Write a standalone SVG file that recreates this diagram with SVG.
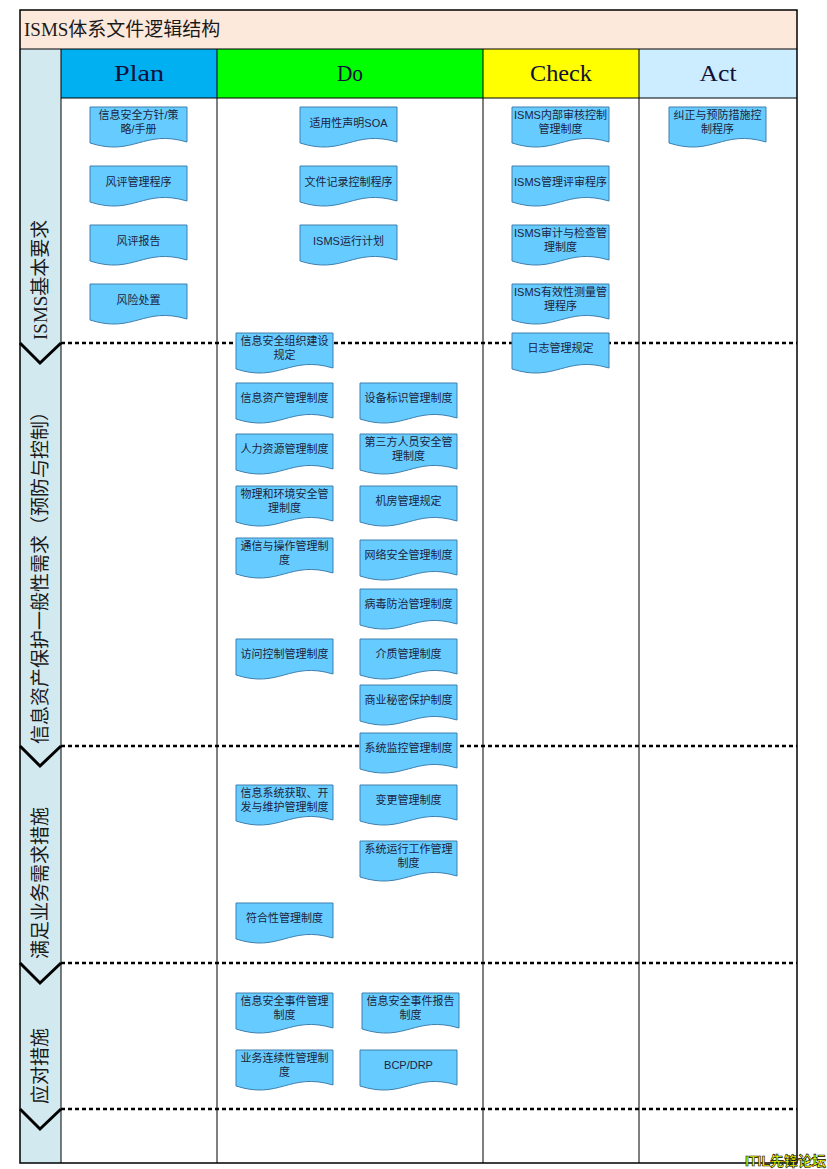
<svg xmlns="http://www.w3.org/2000/svg" xmlns:xlink="http://www.w3.org/1999/xlink" width="827" height="1169" viewBox="0 0 827 1169">
<style>
.doc{fill:#66CCFF;stroke:#3f7fae;stroke-width:1}
.t{font-family:"Liberation Sans","Noto Sans CJK SC",sans-serif;font-size:11px;fill:#1c2340;text-anchor:middle}
.hd{font-family:"Liberation Serif","Noto Sans CJK SC",serif;font-size:24px;fill:#10103a;text-anchor:middle}
.lane{font-family:"Liberation Serif","Noto Sans CJK SC",serif;font-size:19px;fill:#1a1a1a}
.sep{stroke:#000;stroke-width:2.5;stroke-dasharray:4 3;fill:none}
.chev{stroke:#000;stroke-width:3;fill:none}
.ln{stroke:#000;stroke-width:1;fill:none}
</style>
<defs>
<path id="doc" d="M0,0 H97 V35 C53.35,22 43.65,50 0,36 Z"/>
</defs>
<rect width="827" height="1169" fill="#fff"/>
<g id="frame">
<rect x="20" y="10" width="777" height="39" fill="#FDE9DC"/>
<rect x="20" y="49" width="41" height="1114" fill="#D3E9F0"/>
<rect x="61" y="49" width="156" height="49" fill="#00B0F0"/>
<rect x="217" y="49" width="266" height="49" fill="#00FF00"/>
<rect x="483" y="49" width="156" height="49" fill="#FFFF00"/>
<rect x="639" y="49" width="158" height="49" fill="#CCECFF"/>
<text x="24" y="36" font-family="'Liberation Serif','Noto Sans CJK SC',serif" font-size="19" fill="#1a1a1a">ISMS体系文件逻辑结构</text>
<text class="hd" x="139" y="81" textLength="50" lengthAdjust="spacingAndGlyphs">Plan</text>
<text class="hd" x="350" y="81" textLength="26" lengthAdjust="spacingAndGlyphs">Do</text>
<text class="hd" x="561" y="81" textLength="62" lengthAdjust="spacingAndGlyphs">Check</text>
<text class="hd" x="718" y="81" textLength="37" lengthAdjust="spacingAndGlyphs">Act</text>
<path class="ln" d="M20,49 H797 M61,98 H797 M61,49 V1163 M217,49 V1163 M483,49 V1163 M639,49 V1163"/>
<rect x="20" y="10" width="777" height="1153" fill="none" stroke="#000" stroke-width="1.5"/>
</g>
<g id="separators">
<path class="sep" d="M61,343 H797 M61,746 H797 M61,963 H797 M61,1109 H797"/>
<path class="chev" d="M20,343 L40,363 L61,343 M20,746 L40,766 L61,746 M20,963 L40,983 L61,963 M20,1109 L40,1129 L61,1109"/>
</g>
<g id="lanes">
<text id="lane1" class="lane" transform="translate(47,340) rotate(-90)">ISMS基本要求</text>
<text id="lane2" class="lane" transform="translate(47,744) rotate(-90)">信息资产保护一般性需求（预防与控制）</text>
<text id="lane3" class="lane" transform="translate(47,959) rotate(-90)">满足业务需求措施</text>
<text id="lane4" class="lane" transform="translate(47,1104) rotate(-90)">应对措施</text>
</g>
<g id="connectors"/>
<g id="n1" transform="translate(90,107)"><use href="#doc" class="doc"/><text class="t" x="48.5" y="12">信息安全方针/策</text><text class="t" x="48.5" y="25.5">略/手册</text></g>
<g id="n2" transform="translate(90,166)"><use href="#doc" class="doc"/><text class="t" x="48.5" y="20">风评管理程序</text></g>
<g id="n3" transform="translate(90,225)"><use href="#doc" class="doc"/><text class="t" x="48.5" y="20">风评报告</text></g>
<g id="n4" transform="translate(90,284)"><use href="#doc" class="doc"/><text class="t" x="48.5" y="20">风险处置</text></g>
<g id="n5" transform="translate(300,107)"><use href="#doc" class="doc"/><text class="t" x="48.5" y="20">适用性声明SOA</text></g>
<g id="n6" transform="translate(300,166)"><use href="#doc" class="doc"/><text class="t" x="48.5" y="20">文件记录控制程序</text></g>
<g id="n7" transform="translate(300,225)"><use href="#doc" class="doc"/><text class="t" x="48.5" y="20">ISMS运行计划</text></g>
<g id="n8" transform="translate(512,107)"><use href="#doc" class="doc"/><text class="t" x="48.5" y="12">ISMS内部审核控制</text><text class="t" x="48.5" y="25.5">管理制度</text></g>
<g id="n9" transform="translate(512,166)"><use href="#doc" class="doc"/><text class="t" x="48.5" y="20">ISMS管理评审程序</text></g>
<g id="n10" transform="translate(512,225)"><use href="#doc" class="doc"/><text class="t" x="48.5" y="12">ISMS审计与检查管</text><text class="t" x="48.5" y="25.5">理制度</text></g>
<g id="n11" transform="translate(512,284)"><use href="#doc" class="doc"/><text class="t" x="48.5" y="12">ISMS有效性测量管</text><text class="t" x="48.5" y="25.5">理程序</text></g>
<g id="n12" transform="translate(512,333)"><use href="#doc" class="doc"/><text class="t" x="48.5" y="19">日志管理规定</text></g>
<g id="n13" transform="translate(669,107)"><use href="#doc" class="doc"/><text class="t" x="48.5" y="12">纠正与预防措施控</text><text class="t" x="48.5" y="25.5">制程序</text></g>
<g id="n14" transform="translate(236,333)"><use href="#doc" class="doc"/><text class="t" x="48.5" y="12">信息安全组织建设</text><text class="t" x="48.5" y="25.5">规定</text></g>
<g id="n15" transform="translate(236,383)"><use href="#doc" class="doc"/><text class="t" x="48.5" y="19">信息资产管理制度</text></g>
<g id="n16" transform="translate(236,434)"><use href="#doc" class="doc"/><text class="t" x="48.5" y="19">人力资源管理制度</text></g>
<g id="n17" transform="translate(236,486)"><use href="#doc" class="doc"/><text class="t" x="48.5" y="12">物理和环境安全管</text><text class="t" x="48.5" y="25.5">理制度</text></g>
<g id="n18" transform="translate(236,538)"><use href="#doc" class="doc"/><text class="t" x="48.5" y="12">通信与操作管理制</text><text class="t" x="48.5" y="25.5">度</text></g>
<g id="n19" transform="translate(236,639)"><use href="#doc" class="doc"/><text class="t" x="48.5" y="19">访问控制管理制度</text></g>
<g id="n20" transform="translate(236,785)"><use href="#doc" class="doc"/><text class="t" x="48.5" y="12">信息系统获取、开</text><text class="t" x="48.5" y="25.5">发与维护管理制度</text></g>
<g id="n21" transform="translate(236,903)"><use href="#doc" class="doc"/><text class="t" x="48.5" y="19">符合性管理制度</text></g>
<g id="n22" transform="translate(236,993)"><use href="#doc" class="doc"/><text class="t" x="48.5" y="12">信息安全事件管理</text><text class="t" x="48.5" y="25.5">制度</text></g>
<g id="n23" transform="translate(236,1050)"><use href="#doc" class="doc"/><text class="t" x="48.5" y="12">业务连续性管理制</text><text class="t" x="48.5" y="25.5">度</text></g>
<g id="n24" transform="translate(360,383)"><use href="#doc" class="doc"/><text class="t" x="48.5" y="19">设备标识管理制度</text></g>
<g id="n25" transform="translate(360,434)"><use href="#doc" class="doc"/><text class="t" x="48.5" y="12">第三方人员安全管</text><text class="t" x="48.5" y="25.5">理制度</text></g>
<g id="n26" transform="translate(360,486)"><use href="#doc" class="doc"/><text class="t" x="48.5" y="19">机房管理规定</text></g>
<g id="n27" transform="translate(360,540)"><use href="#doc" class="doc"/><text class="t" x="48.5" y="19">网络安全管理制度</text></g>
<g id="n28" transform="translate(360,589)"><use href="#doc" class="doc"/><text class="t" x="48.5" y="19">病毒防治管理制度</text></g>
<g id="n29" transform="translate(360,639)"><use href="#doc" class="doc"/><text class="t" x="48.5" y="19">介质管理制度</text></g>
<g id="n30" transform="translate(360,685)"><use href="#doc" class="doc"/><text class="t" x="48.5" y="19">商业秘密保护制度</text></g>
<g id="n31" transform="translate(360,733)"><use href="#doc" class="doc"/><text class="t" x="48.5" y="19">系统监控管理制度</text></g>
<g id="n32" transform="translate(360,785)"><use href="#doc" class="doc"/><text class="t" x="48.5" y="19">变更管理制度</text></g>
<g id="n33" transform="translate(360,841)"><use href="#doc" class="doc"/><text class="t" x="48.5" y="12">系统运行工作管理</text><text class="t" x="48.5" y="25.5">制度</text></g>
<g id="n34" transform="translate(362,993)"><use href="#doc" class="doc"/><text class="t" x="48.5" y="12">信息安全事件报告</text><text class="t" x="48.5" y="25.5">制度</text></g>
<g id="n35" transform="translate(360,1050)"><use href="#doc" class="doc"/><text class="t" x="48.5" y="19">BCP/DRP</text></g>
<text x="826" y="1166" text-anchor="end" font-family="'Liberation Sans','Noto Sans CJK SC',sans-serif" font-size="14" font-weight="bold" fill="#FFFF00" stroke="#000" stroke-width="0.6">ITIL先锋论坛</text>
</svg>
